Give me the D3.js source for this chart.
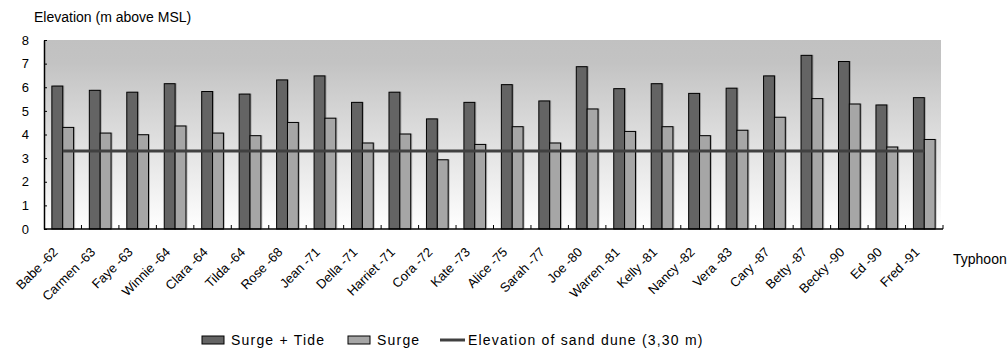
<!DOCTYPE html>
<html>
<head>
<meta charset="utf-8">
<script src="https://cdn.jsdelivr.net/npm/d3@7"></script>
<style>
  html, body { margin: 0; padding: 0; background: #fff; }
  svg text { font-family: "Liberation Sans", Arial, sans-serif; fill: #000; }
</style>
</head>
<body>
<svg id="chart" width="1007" height="348"></svg>
<script>
// Typhoon names with year
const typhoons = ["Babe -62","Carmen -63","Faye -63","Winnie -64","Clara -64","Tilda -64","Rose -68","Jean -71","Della -71","Harriet -71","Cora -72","Kate -73","Alice -75","Sarah -77","Joe -80","Warren -81","Kelly -81","Nancy -82","Vera -83","Cary -87","Betty -87","Becky -90","Ed -90","Fred -91"];
// Peak water elevation, surge plus tide (m above MSL)
const surgeTide = [6.05,5.87,5.79,6.15,5.82,5.71,6.31,6.48,5.36,5.79,4.66,5.36,6.11,5.42,6.87,5.94,6.15,5.74,5.96,6.48,7.35,7.09,5.25,5.56];
// Surge component alone (m)
const surge = [4.30,4.06,3.99,4.36,4.06,3.95,4.51,4.69,3.64,4.02,2.93,3.58,4.33,3.64,5.08,4.13,4.33,3.95,4.18,4.73,5.52,5.29,3.47,3.79];
// Crest of the sand dune (m)
const duneElevation = 3.30;
const yTicks = [0,1,2,3,4,5,6,7,8];
const seriesKeys = ["Surge + Tide", "Surge"];
const seriesColors = ["#646464", "#a6a6a6"];

const svg = d3.select("#chart");
const plot = { left: 44, right: 943, top: 40, bottom: 229 };

const x = d3.scaleBand().domain(typhoons).range([plot.left, plot.right])
  .paddingInner(0.42).paddingOuter(0.21);
const xFull = d3.scaleBand().domain(typhoons).range([plot.left, plot.right]);
const xInner = d3.scaleBand().domain(seriesKeys).range([0, x.bandwidth()]);
const y = d3.scaleLinear().domain([0, 8]).range([plot.bottom, plot.top]);

// plot area background: grey at the top fading to white
const defs = svg.append("defs");
const grad = defs.append("linearGradient").attr("id", "bg")
  .attr("x1", 0).attr("y1", 0).attr("x2", 0).attr("y2", 1);
grad.append("stop").attr("offset", "0%").attr("stop-color", "#c1c1c1");
grad.append("stop").attr("offset", "12%").attr("stop-color", "#c3c3c3");
grad.append("stop").attr("offset", "100%").attr("stop-color", "#ffffff");

svg.append("rect")
  .attr("x", plot.left).attr("y", plot.top)
  .attr("width", plot.right - plot.left - 2).attr("height", plot.bottom - plot.top)
  .attr("fill", "url(#bg)");

// bars
const rows = typhoons.map((name, i) => ({ name, values: [surgeTide[i], surge[i]] }));
const groups = svg.append("g").selectAll("g").data(rows).join("g")
  .attr("transform", d => `translate(${x(d.name)},0)`);

groups.selectAll("rect.shadow")
  .data(d => d.values.map((v, k) => ({ key: seriesKeys[k], v, k })))
  .join("rect").attr("class", "shadow")
  .attr("x", d => xInner(d.key) + 1.5)
  .attr("y", d => y(d.v) - 0.5)
  .attr("width", xInner.bandwidth())
  .attr("height", d => y(0) - y(d.v))
  .attr("fill", "rgba(0,0,0,0.25)");

groups.selectAll("rect.bar")
  .data(d => d.values.map((v, k) => ({ key: seriesKeys[k], v, k })))
  .join("rect").attr("class", "bar")
  .attr("x", d => xInner(d.key))
  .attr("y", d => y(d.v))
  .attr("width", xInner.bandwidth())
  .attr("height", d => y(0) - y(d.v))
  .attr("fill", d => seriesColors[d.k])
  .attr("stroke", "#000")
  .attr("stroke-width", 1);

// sand dune elevation line
const first = typhoons[0], last = typhoons[typhoons.length - 1];
svg.append("line")
  .attr("x1", xFull(first) + xFull.bandwidth() / 2)
  .attr("x2", xFull(last) + xFull.bandwidth() / 2)
  .attr("y1", y(duneElevation)).attr("y2", y(duneElevation))
  .attr("stroke", "#404040").attr("stroke-width", 3);

// y axis
const yAxis = svg.append("g").attr("transform", `translate(${plot.left},0)`)
  .call(d3.axisLeft(y).tickValues(yTicks).tickFormat(d3.format("d")).tickSizeInner(-3).tickSizeOuter(0).tickPadding(15));
yAxis.select(".domain").attr("stroke", "#000").attr("stroke-width", 1.5);
yAxis.selectAll(".tick line").attr("stroke", "#000");
yAxis.selectAll(".tick text").attr("font-size", 13).attr("font-family", "Liberation Sans, Arial, sans-serif");

// x axis: boundary ticks pointing up, rotated labels
const xAxisG = svg.append("g");
xAxisG.append("line")
  .attr("x1", plot.left).attr("x2", plot.right)
  .attr("y1", plot.bottom).attr("y2", plot.bottom)
  .attr("stroke", "#000").attr("stroke-width", 1.5);
const boundaries = typhoons.map(t => xFull(t)).concat([plot.right]).slice(1);
xAxisG.selectAll("line.tk").data(boundaries).join("line").attr("class", "tk")
  .attr("x1", d => d).attr("x2", d => d)
  .attr("y1", plot.bottom).attr("y2", plot.bottom - 4)
  .attr("stroke", "#000").attr("stroke-width", 1);
xAxisG.selectAll("text").data(typhoons).join("text")
  .attr("transform", d => `translate(${xFull(d) + xFull.bandwidth() / 2 - 4},${plot.bottom + 24}) rotate(-45)`)
  .attr("text-anchor", "end")
  .attr("font-size", 13)
  .text(d => d);

// axis titles
svg.append("text").attr("x", 34).attr("y", 22).attr("font-size", 14)
  .text("Elevation (m above MSL)");
svg.append("text").attr("x", 953).attr("y", 264).attr("font-size", 14)
  .text("Typhoon");

// legend
const legend = svg.append("g").attr("font-size", 14);
const lgY = 340;
legend.append("rect").attr("x", 202).attr("y", lgY - 4).attr("width", 22).attr("height", 8)
  .attr("fill", seriesColors[0]).attr("stroke", "#000");
legend.append("text").attr("x", 231).attr("y", lgY + 5).attr("letter-spacing", 1.2).text(seriesKeys[0]);
legend.append("rect").attr("x", 348).attr("y", lgY - 4).attr("width", 22).attr("height", 8)
  .attr("fill", seriesColors[1]).attr("stroke", "#000");
legend.append("text").attr("x", 377).attr("y", lgY + 5).attr("letter-spacing", 1.2).text(seriesKeys[1]);
legend.append("line").attr("x1", 440).attr("x2", 465).attr("y1", lgY).attr("y2", lgY)
  .attr("stroke", "#404040").attr("stroke-width", 3);
legend.append("text").attr("x", 468).attr("y", lgY + 5).attr("letter-spacing", 1.2)
  .text("Elevation of sand dune (3,30 m)");
</script>
</body>
</html>
